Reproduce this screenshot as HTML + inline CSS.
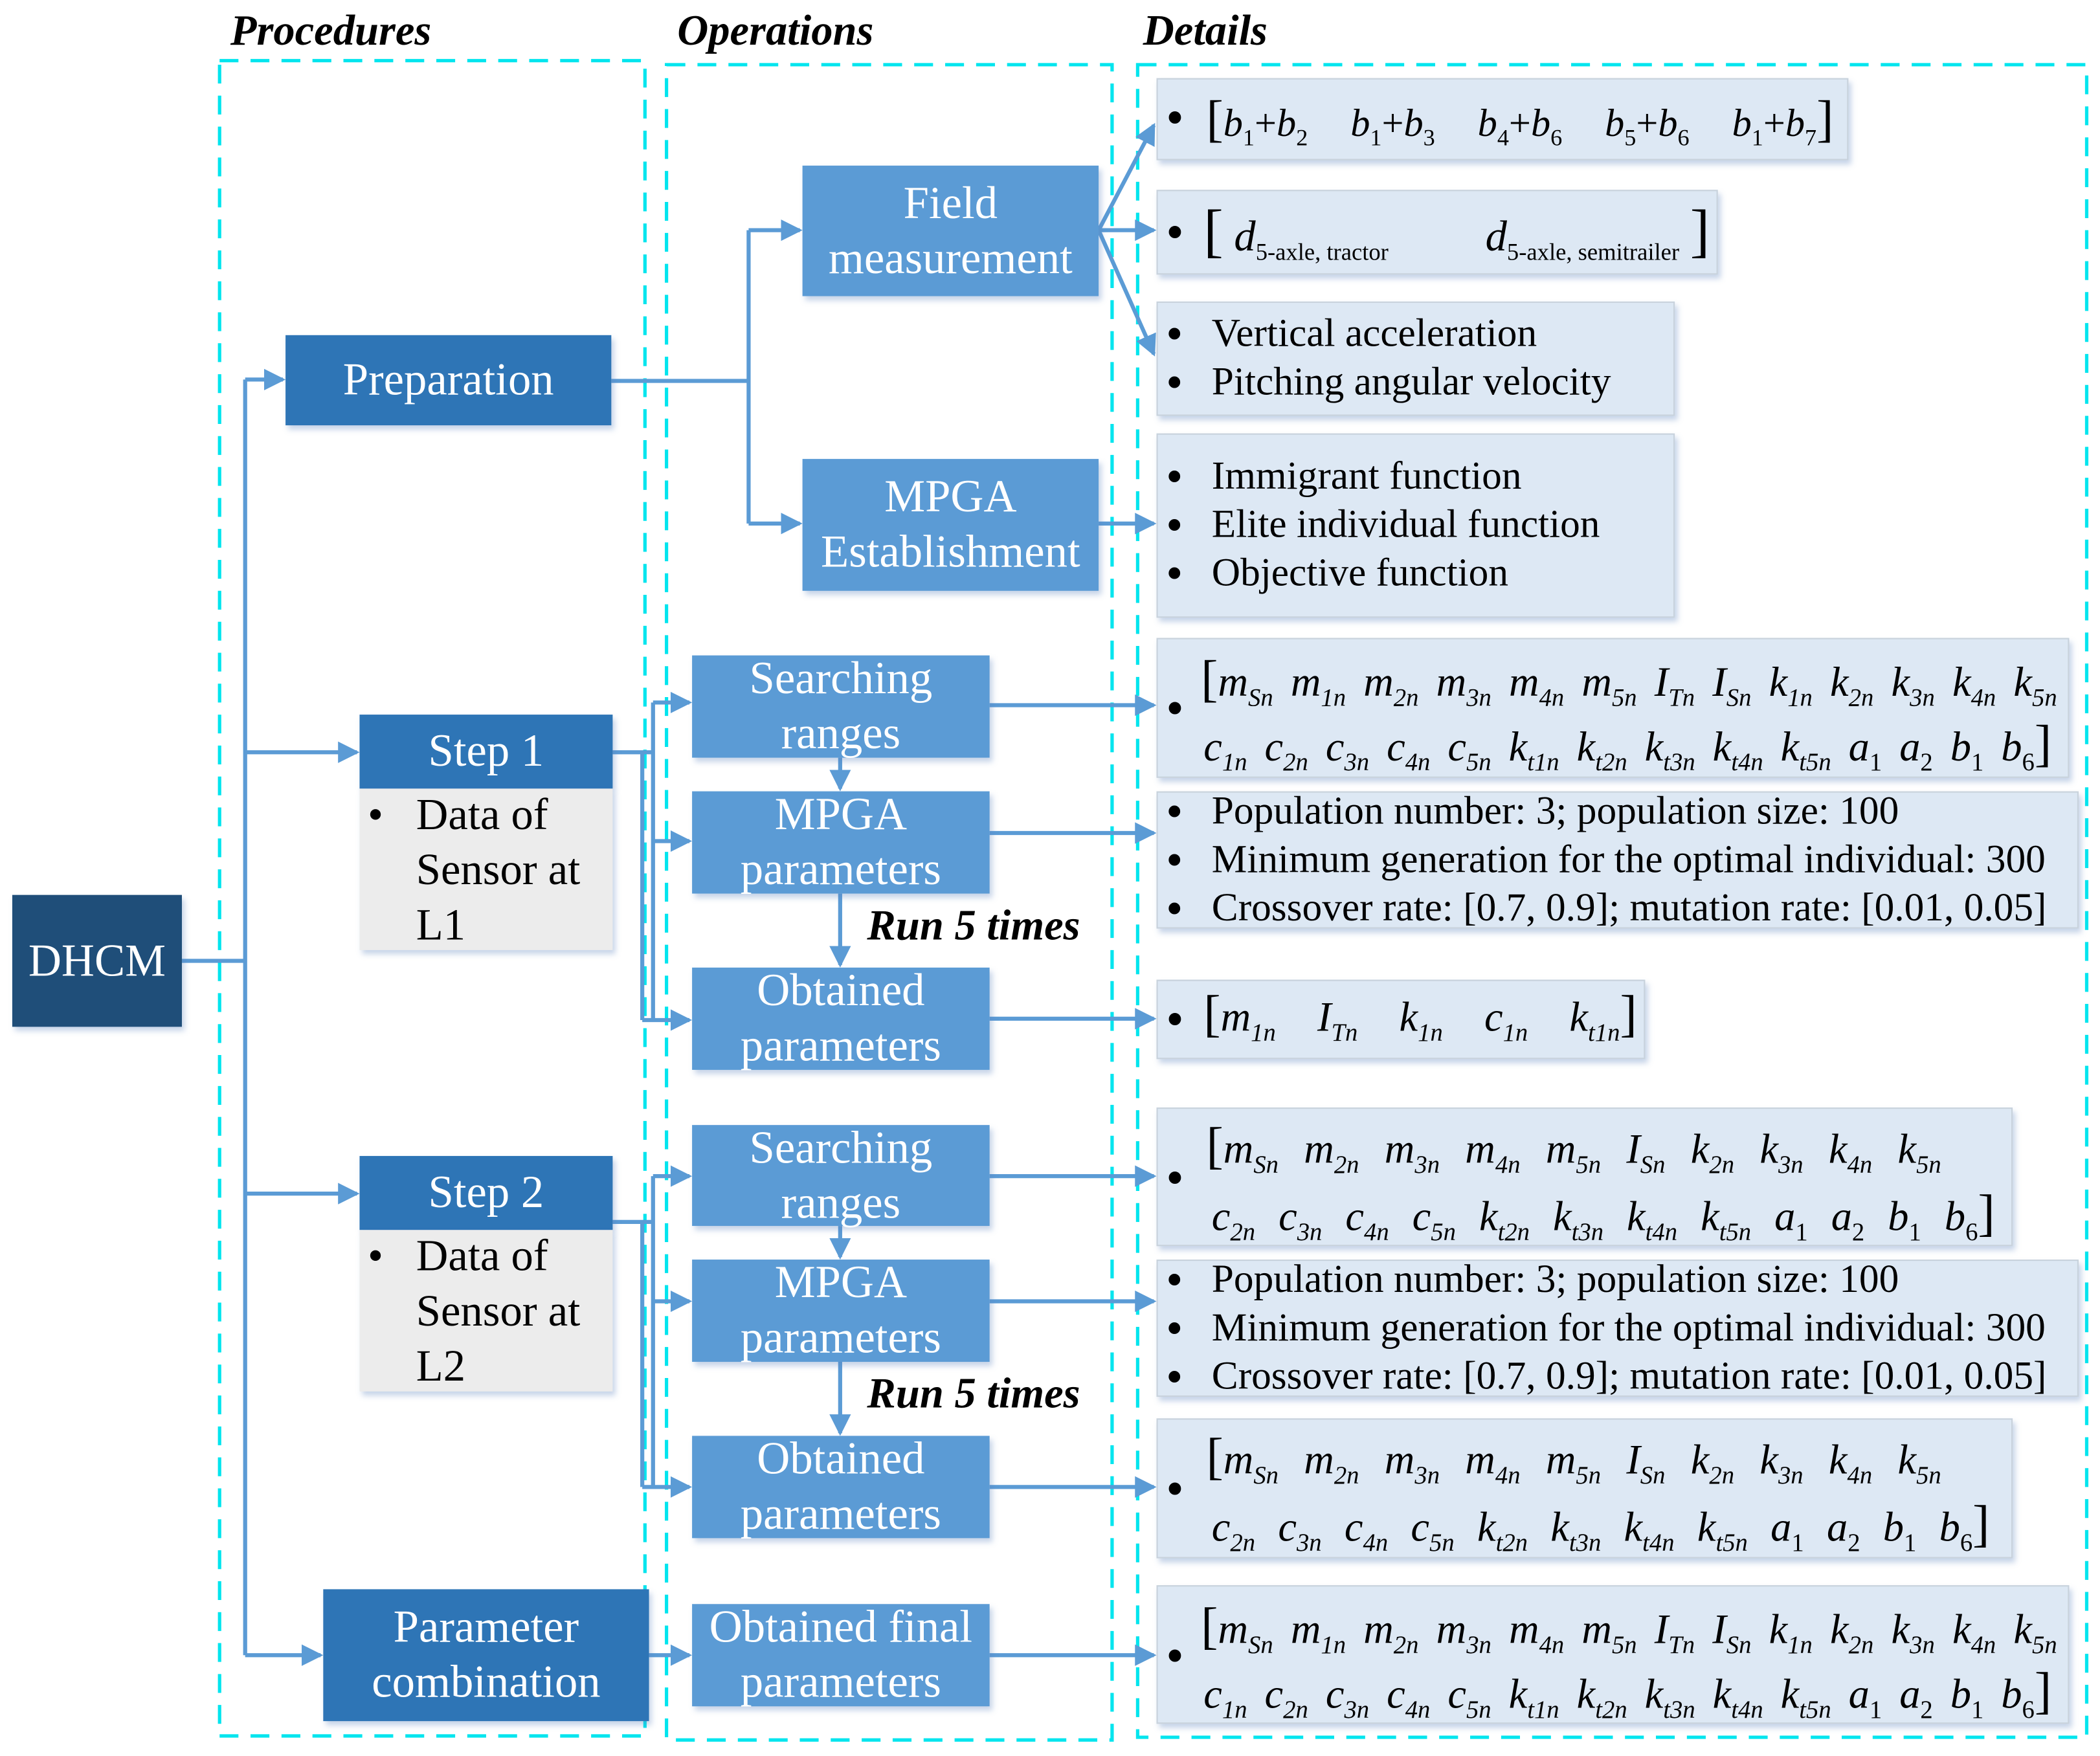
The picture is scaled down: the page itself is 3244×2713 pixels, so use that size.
<!DOCTYPE html>
<html><head><meta charset="utf-8"><style>
html,body{margin:0;padding:0;background:#fff;}
body{width:3244px;height:2713px;overflow:hidden;position:relative;}
#w{position:absolute;left:-6px;top:-4px;width:1560px;height:1305px;transform-origin:0 0;transform:scale(2.07949,2.07893);font-family:"Liberation Serif",serif;}
.a{position:absolute;box-sizing:border-box;}
.bx{display:flex;align-items:center;justify-content:center;text-align:center;color:#fff;font-size:34px;line-height:41px;box-shadow:2px 3px 4px rgba(90,130,190,0.35);}
.dk{background:#2e75b6;}
.md{background:#5b9bd5;}
.dt{background:#dde8f4;border:1px solid #c8d2dc;box-shadow:2px 3px 4px rgba(90,130,190,0.35);color:#000;font-size:29.5px;}
.hd{font-weight:bold;font-style:italic;font-size:32px;color:#000;}
.li{position:absolute;left:40px;white-space:nowrap;line-height:34px;}
.li:before{content:"•";position:absolute;left:-34px;font-size:36px;}
.row{position:absolute;display:flex;justify-content:space-between;align-items:baseline;font-size:31px;white-space:nowrap;}
.row i{font-style:italic;}
sub{font-size:0.6em;vertical-align:-0.4em;line-height:0;font-style:italic;}
sub.u{font-style:normal;}
.bul{position:absolute;font-size:38px;line-height:38px;}
.bk{font-size:38px;font-style:normal;}
.sb{position:absolute;font-size:33px;line-height:41px;color:#000;padding-left:42px;background:#ececec;box-shadow:2px 3px 4px rgba(90,130,190,0.35);}
</style></head><body><div id="w">
<svg class="a" style="left:0;top:0" width="1560" height="1305" viewBox="0 0 1560 1305">
<defs><marker id="ar2" markerWidth="16" markerHeight="16" refX="14" refY="8" orient="auto" markerUnits="userSpaceOnUse"><path d="M0,0 L16,8 L0,16 z" fill="#5b9bd5"/></marker></defs>
<g fill="none" stroke="#00e5ee" stroke-width="2.5" stroke-dasharray="14,9">
<rect x="166" y="47" width="316" height="1245"/>
<rect x="498" y="50" width="331" height="1245"/>
<rect x="848" y="50" width="705" height="1243"/>
</g>
<g fill="none" stroke="#5b9bd5" stroke-width="3">
<path d="M138,716 H185 M185,284 V1232"/>
<path d="M185,284 H213" marker-end="url(#ar2)"/>
<path d="M185,561 H268" marker-end="url(#ar2)"/>
<path d="M185,889 H268" marker-end="url(#ar2)"/>
<path d="M185,1232 H241" marker-end="url(#ar2)"/>
<path d="M457,285 H559 M559,173 V391"/>
<path d="M559,173 H597" marker-end="url(#ar2)"/>
<path d="M559,391 H597" marker-end="url(#ar2)"/>
<path d="M819,173 L860,95" marker-end="url(#ar2)"/>
<path d="M819,173 H860" marker-end="url(#ar2)"/>
<path d="M819,173 L860,265" marker-end="url(#ar2)"/>
<path d="M819,391 H860" marker-end="url(#ar2)"/>
<path d="M458,561 H480 V760 M480,561 H488 M488,524 V760"/>
<path d="M488,524 H515" marker-end="url(#ar2)"/>
<path d="M488,627 H515" marker-end="url(#ar2)"/>
<path d="M480,760 H515" marker-end="url(#ar2)"/>
<path d="M458,910 H480 V1107 M480,910 H488 M488,876 V1107"/>
<path d="M488,876 H515" marker-end="url(#ar2)"/>
<path d="M488,969 H515" marker-end="url(#ar2)"/>
<path d="M480,1107 H515" marker-end="url(#ar2)"/>
<path d="M485,1232 H515" marker-end="url(#ar2)"/>
<path d="M627,565 V588" marker-end="url(#ar2)"/>
<path d="M627,666 V719" marker-end="url(#ar2)"/>
<path d="M627,913 V936" marker-end="url(#ar2)"/>
<path d="M627,1014 V1067" marker-end="url(#ar2)"/>
<path d="M738,526 H860" marker-end="url(#ar2)"/>
<path d="M738,621 H860" marker-end="url(#ar2)"/>
<path d="M738,759 H860" marker-end="url(#ar2)"/>
<path d="M738,876 H860" marker-end="url(#ar2)"/>
<path d="M738,969 H860" marker-end="url(#ar2)"/>
<path d="M738,1107 H860" marker-end="url(#ar2)"/>
<path d="M738,1232 H860" marker-end="url(#ar2)"/>
</g>
</svg>
<div class="a hd" style="left:174px;top:6px">Procedures</div>
<div class="a hd" style="left:506px;top:6px">Operations</div>
<div class="a hd" style="left:852px;top:6px">Details</div>

<div class="a bx" style="left:12px;top:667px;width:126px;height:98px;background:#1f4e79">DHCM</div>
<div class="a bx dk" style="left:215px;top:251px;width:242px;height:67px">Preparation</div>
<div class="a bx dk" style="left:270px;top:533px;width:188px;height:55px">Step 1</div>
<div class="a sb" style="left:270px;top:588px;width:188px;height:120px"><span style="position:absolute;left:6px">•</span>Data of<br>Sensor at<br>L1</div>
<div class="a bx dk" style="left:270px;top:861px;width:188px;height:55px">Step 2</div>
<div class="a sb" style="left:270px;top:916px;width:188px;height:120px"><span style="position:absolute;left:6px">•</span>Data of<br>Sensor at<br>L2</div>
<div class="a bx dk" style="left:243px;top:1183px;width:242px;height:98px">Parameter<br>combination</div>

<div class="a bx md" style="left:599px;top:125px;width:220px;height:97px">Field<br>measurement</div>
<div class="a bx md" style="left:599px;top:343px;width:220px;height:98px">MPGA<br>Establishment</div>
<div class="a bx md" style="left:517px;top:489px;width:221px;height:76px">Searching<br>ranges</div>
<div class="a bx md" style="left:517px;top:590px;width:221px;height:76px">MPGA<br>parameters</div>
<div class="a bx md" style="left:517px;top:721px;width:221px;height:76px">Obtained<br>parameters</div>
<div class="a bx md" style="left:517px;top:838px;width:221px;height:75px">Searching<br>ranges</div>
<div class="a bx md" style="left:517px;top:938px;width:221px;height:76px">MPGA<br>parameters</div>
<div class="a bx md" style="left:517px;top:1069px;width:221px;height:76px">Obtained<br>parameters</div>
<div class="a bx md" style="left:517px;top:1194px;width:221px;height:76px">Obtained final<br>parameters</div>
<div class="a hd" style="left:647px;top:671px">Run 5 times</div>
<div class="a hd" style="left:647px;top:1019px">Run 5 times</div>

<div class="a dt" style="left:862px;top:60px;width:514px;height:61px"><span class="bul" style="left:6px;top:10px">•</span>
<div class="row" style="left:36px;top:8px;width:466px;font-size:29px"><span><span class="bk">[</span><i>b</i><sub class="u">1</sub>+<i>b</i><sub class="u">2</sub></span><span><i>b</i><sub class="u">1</sub>+<i>b</i><sub class="u">3</sub></span><span><i>b</i><sub class="u">4</sub>+<i>b</i><sub class="u">6</sub></span><span><i>b</i><sub class="u">5</sub>+<i>b</i><sub class="u">6</sub></span><span><i>b</i><sub class="u">1</sub>+<i>b</i><sub class="u">7</sub><span class="bk">]</span></span></div></div>
<div class="a dt" style="left:862px;top:143px;width:417px;height:63px"><span class="bul" style="left:6px;top:12px">•</span>
<div class="row" style="left:34px;top:4px;width:376px;font-size:32px"><span><span class="bk" style="font-size:44px">[</span> <i>d</i><sub class="u" style="font-size:0.55em">5-axle, tractor</sub></span><span><i>d</i><sub class="u" style="font-size:0.55em">5-axle, semitrailer</sub> <span class="bk" style="font-size:44px">]</span></span></div></div>
<div class="a dt" style="left:862px;top:226px;width:385px;height:85px">
<div class="li" style="top:6px">Vertical acceleration</div><div class="li" style="top:42px">Pitching angular velocity</div></div>
<div class="a dt" style="left:862px;top:324px;width:385px;height:137px">
<div class="li" style="top:14px">Immigrant function</div><div class="li" style="top:50px">Elite individual function</div><div class="li" style="top:86px">Objective function</div></div>

<div class="a dt" style="left:862px;top:476px;width:678px;height:104px"><span class="bul" style="left:6px;top:33px">•</span>
<div class="row" style="left:32px;top:8px;width:636px"><span><span class="bk">[</span><i>m</i><sub>Sn</sub></span><span><i>m</i><sub>1n</sub></span><span><i>m</i><sub>2n</sub></span><span><i>m</i><sub>3n</sub></span><span><i>m</i><sub>4n</sub></span><span><i>m</i><sub>5n</sub></span><span><i>I</i><sub>Tn</sub></span><span><i>I</i><sub>Sn</sub></span><span><i>k</i><sub>1n</sub></span><span><i>k</i><sub>2n</sub></span><span><i>k</i><sub>3n</sub></span><span><i>k</i><sub>4n</sub></span><span><i>k</i><sub>5n</sub></span></div>
<div class="row" style="left:34px;top:56px;width:630px"><span><i>c</i><sub>1n</sub></span><span><i>c</i><sub>2n</sub></span><span><i>c</i><sub>3n</sub></span><span><i>c</i><sub>4n</sub></span><span><i>c</i><sub>5n</sub></span><span><i>k</i><sub>t1n</sub></span><span><i>k</i><sub>t2n</sub></span><span><i>k</i><sub>t3n</sub></span><span><i>k</i><sub>t4n</sub></span><span><i>k</i><sub>t5n</sub></span><span><i>a</i><sub class="u">1</sub></span><span><i>a</i><sub class="u">2</sub></span><span><i>b</i><sub class="u">1</sub></span><span><i>b</i><sub class="u">6</sub><span class="bk">]</span></span></div></div>

<div class="a dt" style="left:862px;top:590px;width:685px;height:102px">
<div class="li" style="top:-3px">Population number: 3; population size: 100</div><div class="li" style="top:33px">Minimum generation for the optimal individual: 300</div><div class="li" style="top:69px">Crossover rate: [0.7, 0.9]; mutation rate: [0.01, 0.05]</div></div>

<div class="a dt" style="left:862px;top:730px;width:363px;height:59px"><span class="bul" style="left:6px;top:10px">•</span>
<div class="row" style="left:34px;top:3px;width:322px"><span><span class="bk">[</span><i>m</i><sub>1n</sub></span><span><i>I</i><sub>Tn</sub></span><span><i>k</i><sub>1n</sub></span><span><i>c</i><sub>1n</sub></span><span><i>k</i><sub>t1n</sub><span class="bk">]</span></span></div></div>

<div class="a dt" style="left:862px;top:825px;width:636px;height:103px"><span class="bul" style="left:6px;top:33px">•</span>
<div class="row" style="left:36px;top:6px;width:546px"><span><span class="bk">[</span><i>m</i><sub>Sn</sub></span><span><i>m</i><sub>2n</sub></span><span><i>m</i><sub>3n</sub></span><span><i>m</i><sub>4n</sub></span><span><i>m</i><sub>5n</sub></span><span><i>I</i><sub>Sn</sub></span><span><i>k</i><sub>2n</sub></span><span><i>k</i><sub>3n</sub></span><span><i>k</i><sub>4n</sub></span><span><i>k</i><sub>5n</sub></span></div>
<div class="row" style="left:40px;top:56px;width:582px"><span><i>c</i><sub>2n</sub></span><span><i>c</i><sub>3n</sub></span><span><i>c</i><sub>4n</sub></span><span><i>c</i><sub>5n</sub></span><span><i>k</i><sub>t2n</sub></span><span><i>k</i><sub>t3n</sub></span><span><i>k</i><sub>t4n</sub></span><span><i>k</i><sub>t5n</sub></span><span><i>a</i><sub class="u">1</sub></span><span><i>a</i><sub class="u">2</sub></span><span><i>b</i><sub class="u">1</sub></span><span><i>b</i><sub class="u">6</sub><span class="bk">]</span></span></div></div>

<div class="a dt" style="left:862px;top:938px;width:685px;height:102px">
<div class="li" style="top:-3px">Population number: 3; population size: 100</div><div class="li" style="top:33px">Minimum generation for the optimal individual: 300</div><div class="li" style="top:69px">Crossover rate: [0.7, 0.9]; mutation rate: [0.01, 0.05]</div></div>

<div class="a dt" style="left:862px;top:1056px;width:636px;height:104px"><span class="bul" style="left:6px;top:33px">•</span>
<div class="row" style="left:36px;top:6px;width:546px"><span><span class="bk">[</span><i>m</i><sub>Sn</sub></span><span><i>m</i><sub>2n</sub></span><span><i>m</i><sub>3n</sub></span><span><i>m</i><sub>4n</sub></span><span><i>m</i><sub>5n</sub></span><span><i>I</i><sub>Sn</sub></span><span><i>k</i><sub>2n</sub></span><span><i>k</i><sub>3n</sub></span><span><i>k</i><sub>4n</sub></span><span><i>k</i><sub>5n</sub></span></div>
<div class="row" style="left:40px;top:56px;width:578px"><span><i>c</i><sub>2n</sub></span><span><i>c</i><sub>3n</sub></span><span><i>c</i><sub>4n</sub></span><span><i>c</i><sub>5n</sub></span><span><i>k</i><sub>t2n</sub></span><span><i>k</i><sub>t3n</sub></span><span><i>k</i><sub>t4n</sub></span><span><i>k</i><sub>t5n</sub></span><span><i>a</i><sub class="u">1</sub></span><span><i>a</i><sub class="u">2</sub></span><span><i>b</i><sub class="u">1</sub></span><span><i>b</i><sub class="u">6</sub><span class="bk">]</span></span></div></div>

<div class="a dt" style="left:862px;top:1180px;width:678px;height:103px"><span class="bul" style="left:6px;top:33px">•</span>
<div class="row" style="left:32px;top:8px;width:636px"><span><span class="bk">[</span><i>m</i><sub>Sn</sub></span><span><i>m</i><sub>1n</sub></span><span><i>m</i><sub>2n</sub></span><span><i>m</i><sub>3n</sub></span><span><i>m</i><sub>4n</sub></span><span><i>m</i><sub>5n</sub></span><span><i>I</i><sub>Tn</sub></span><span><i>I</i><sub>Sn</sub></span><span><i>k</i><sub>1n</sub></span><span><i>k</i><sub>2n</sub></span><span><i>k</i><sub>3n</sub></span><span><i>k</i><sub>4n</sub></span><span><i>k</i><sub>5n</sub></span></div>
<div class="row" style="left:34px;top:56px;width:630px"><span><i>c</i><sub>1n</sub></span><span><i>c</i><sub>2n</sub></span><span><i>c</i><sub>3n</sub></span><span><i>c</i><sub>4n</sub></span><span><i>c</i><sub>5n</sub></span><span><i>k</i><sub>t1n</sub></span><span><i>k</i><sub>t2n</sub></span><span><i>k</i><sub>t3n</sub></span><span><i>k</i><sub>t4n</sub></span><span><i>k</i><sub>t5n</sub></span><span><i>a</i><sub class="u">1</sub></span><span><i>a</i><sub class="u">2</sub></span><span><i>b</i><sub class="u">1</sub></span><span><i>b</i><sub class="u">6</sub><span class="bk">]</span></span></div></div>
</div></body></html>
